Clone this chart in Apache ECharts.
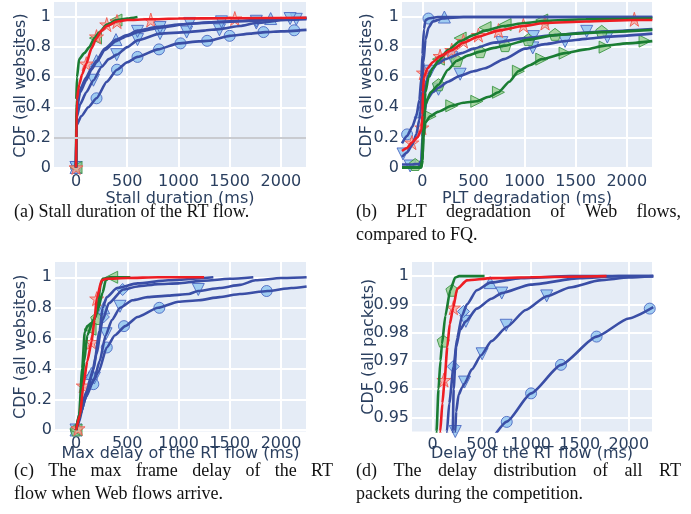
<!DOCTYPE html>
<html><head><meta charset="utf-8">
<script src="https://cdn.jsdelivr.net/npm/echarts@6/dist/echarts.min.js"></script>
<style>html,body{margin:0;padding:0;background:#fff}#c{width:691px;height:514px}</style>
</head><body><div id="c"></div>
<script>
// ---------- tick labels ----------
const xTicks = [0, 500, 1000, 1500, 2000];
const yTicksCdf = [0, 0.2, 0.4, 0.6, 0.8, 1];
const yTicksPkt = [0.95, 0.96, 0.97, 0.98, 0.99, 1];
const refLineA = 0.2;

// ---------- (a) Stall duration ----------
const aBlueUp = [[0,0],[5,0.4],[40,0.52],[100,0.6],[150,0.66],[200,0.71],[280,0.79],[390,0.85],[500,0.88],[600,0.91],[800,0.935],[1000,0.95],[1300,0.965],[1600,0.975],[1900,0.99],[2250,0.995]];
const aBlueUpM = [[0,0],[200,0.71],[390,0.85],[1900,0.99]];
const aBlueDn1 = [[0,0],[5,0.38],[40,0.5],[100,0.58],[150,0.65],[200,0.7],[280,0.78],[390,0.84],[500,0.875],[600,0.9],[820,0.93],[1100,0.955],[1400,0.965],[1750,0.975],[2100,0.985],[2250,0.99]];
const aBlueDn1M = [[0,0],[600,0.905],[820,0.93],[1110,0.958],[1420,0.968],[1760,0.972],[2090,0.99]];
const aBlueDn2 = [[0,0],[5,0.33],[40,0.42],[100,0.5],[170,0.58],[250,0.67],[320,0.72],[400,0.75],[500,0.8],[600,0.845],[820,0.89],[1080,0.9],[1250,0.91],[1400,0.92],[1600,0.94],[1760,0.96],[2050,0.98],[2250,0.985]];
const aBlueDn2M = [[0,0],[170,0.58],[397,0.75],[600,0.85],[820,0.89],[1080,0.9],[1400,0.915],[1760,0.96],[2150,0.985]];
const aBlueCir = [[0,0],[5,0.28],[50,0.34],[120,0.4],[200,0.46],[300,0.57],[400,0.65],[500,0.7],[600,0.735],[800,0.785],[1000,0.825],[1200,0.838],[1300,0.842],[1500,0.875],[1700,0.89],[1850,0.9],[2000,0.905],[2250,0.915]];
const aBlueCirM = [[0,0],[200,0.46],[400,0.65],[600,0.735],[810,0.785],[1020,0.825],[1280,0.842],[1500,0.875],[1830,0.9],[2130,0.912]];
const aGreen = [[0,0],[2,0.45],[10,0.6],[30,0.72],[80,0.76],[130,0.8],[180,0.86],[230,0.9],[300,0.95],[400,0.98],[500,0.99],[600,1.0]];
const aGreenM = [[0,0],[190,0.86],[390,0.98]];
const aRed = [[0,0],[8,0.45],[30,0.55],[60,0.62],[100,0.69],[150,0.79],[200,0.86],[250,0.91],[300,0.94],[400,0.97],[500,0.98],[700,0.985],[1000,0.99],[1500,0.992],[2250,0.995]];
const aRedM = [[0,0],[100,0.69],[200,0.87],[300,0.95],[400,0.97],[730,0.98],[1550,0.99]];

// ---------- (b) PLT degradation ----------
const bBlueCir = [[-200,0.16],[-150,0.21],[-100,0.27],[-60,0.34],[-30,0.45],[-10,0.6],[0,0.75],[15,0.92],[30,0.98],[60,0.99],[150,1.0],[2250,1.0]];
const bBlueCirM = [[-150,0.22],[59,0.99]];
const bBlueUp = [[-200,0.07],[-150,0.1],[-100,0.15],[-60,0.22],[-30,0.32],[-20,0.37],[-5,0.5],[10,0.7],[30,0.85],[60,0.93],[100,0.97],[200,0.99],[400,1.0],[2250,1.0]];
const bBlueUpM = [[-22,0.37],[215,1.0]];
const bBlueDn1 = [[-200,0.02],[-100,0.02],[-30,0.025],[-10,0.05],[0,0.2],[10,0.45],[30,0.56],[75,0.64],[150,0.69],[222,0.72],[385,0.76],[500,0.79],[700,0.83],[1005,0.86],[1300,0.88],[1560,0.895],[1800,0.905],[2250,0.92]];
const bBlueDn1M = [[-190,0.09],[75,0.64],[287,0.73],[777,0.83],[1086,0.87],[1608,0.905]];
const bBlueDn2 = [[-200,0],[-50,0],[-10,0.02],[0,0.15],[15,0.35],[43,0.45],[100,0.5],[157,0.53],[250,0.57],[369,0.61],[500,0.64],[613,0.66],[800,0.72],[1005,0.79],[1200,0.82],[1396,0.84],[1600,0.855],[1820,0.87],[2250,0.89]];
const bBlueDn2M = [[-120,0.01],[157,0.52],[369,0.62],[1080,0.795],[1396,0.838],[1810,0.867]];
const bGreenL = [[-200,0],[-20,0],[-5,0.01],[0,0.1],[10,0.3],[30,0.5],[60,0.6],[100,0.66],[157,0.71],[250,0.78],[369,0.84],[500,0.88],[613,0.91],[800,0.94],[1000,0.96],[1200,0.975],[1600,0.985],[2250,0.99]];
const bGreenLM = [[157,0.72],[369,0.86],[613,0.93],[809,0.95],[1168,0.98]];
const bGreenP = [[-200,0],[-20,0],[0,0.05],[10,0.25],[30,0.42],[80,0.5],[157,0.55],[250,0.65],[336,0.71],[450,0.745],[564,0.77],[700,0.795],[809,0.81],[1037,0.85],[1298,0.88],[1500,0.89],[1755,0.9],[2250,0.915]];
const bGreenPM = [[-71,0.02],[157,0.55],[336,0.71],[564,0.77],[809,0.81],[1037,0.85],[1298,0.885],[1755,0.905]];
const bGreenR = [[-200,0],[-10,0],[0,0.05],[10,0.2],[30,0.3],[75,0.34],[150,0.37],[287,0.41],[400,0.43],[532,0.44],[650,0.47],[744,0.5],[850,0.57],[939,0.64],[1050,0.68],[1168,0.72],[1396,0.76],[1600,0.785],[1788,0.81],[2000,0.825],[2250,0.84]];
const bGreenRM = [[75,0.34],[287,0.41],[532,0.44],[744,0.5],[939,0.64],[1168,0.72],[1396,0.76],[1788,0.8],[2179,0.84]];
const bRed = [[-200,0.11],[-150,0.13],[-104,0.165],[-50,0.2],[-10,0.25],[0,0.35],[5,0.5],[15,0.6],[50,0.66],[100,0.7],[173,0.74],[287,0.78],[401,0.83],[548,0.87],[744,0.91],[988,0.94],[1200,0.96],[1600,0.97],[2074,0.98],[2250,0.98]];
const bRedM = [[-104,0.165],[-6,0.265],[10,0.63],[173,0.74],[287,0.78],[401,0.84],[548,0.88],[744,0.91],[988,0.945],[1200,0.96],[2074,0.985]];

// ---------- (c) Max frame delay ----------
const cBlueCir = [[0,0],[30,0.05],[80,0.2],[150,0.3],[220,0.38],[300,0.54],[380,0.62],[480,0.68],[600,0.74],[800,0.8],[1000,0.84],[1200,0.85],[1400,0.87],[1600,0.89],[1870,0.91],[2100,0.93],[2250,0.94]];
const cBlueCirM = [[0,0],[169,0.3],[300,0.54],[468,0.68],[813,0.8],[1860,0.91]];
const cBlueDn = [[0,0],[40,0.1],[100,0.22],[180,0.34],[230,0.45],[290,0.62],[350,0.72],[430,0.8],[550,0.85],[700,0.87],[900,0.88],[1100,0.89],[1190,0.91],[1400,0.93],[1600,0.95],[1750,0.98],[2000,0.995],[2250,1.0]];
const cBlueDnM = [[0,0],[179,0.34],[293,0.63],[429,0.81],[1193,0.92]];
const cBlueDia = [[0,0],[40,0.1],[100,0.22],[150,0.35],[200,0.5],[260,0.72],[320,0.83],[460,0.92],[600,0.94],[800,0.955],[1000,0.96],[1200,0.975],[1500,0.99],[1730,1.0]];
const cBlueDiaM = [[0,0],[150,0.35],[267,0.74],[455,0.92]];
const cBlueUp = [[0,0],[40,0.12],[100,0.25],[170,0.4],[230,0.65],[260,0.8],[300,0.87],[400,0.93],[600,0.96],[900,0.98],[1340,1.0]];
const cBlueUpM = [[0,0],[150,0.37],[270,0.8]];
const cGreen1 = [[0,0],[30,0.1],[60,0.4],[85,0.64],[110,0.68],[150,0.7],[200,0.75],[240,0.95],[260,0.99],[350,1.0],[530,1.0]];
const cGreen1M = [[0,0],[137,0.66],[348,1.0]];
const cGreen2 = [[0,0],[40,0.1],[80,0.45],[110,0.62],[160,0.7],[210,0.78],[260,0.9],[290,0.98],[330,1.0],[430,1.0]];
const cGreen2M = [[0,0],[202,0.73]];
const cRed = [[0,0],[40,0.1],[71,0.29],[110,0.45],[153,0.58],[180,0.72],[202,0.86],[250,0.98],[300,0.99],[500,0.995],[800,1.0],[1250,1.0]];
const cRedM = [[20,0.01],[71,0.29],[153,0.575],[202,0.86]];

// ---------- (d) Delay of all RT packets ----------
const dGreen = [[35,0.94],[40,0.945],[60,0.96],[80,0.97],[96,0.976],[130,0.986],[180,0.995],[230,0.9995],[270,1.0],[530,1.0]];
const dGreenM = [[108,0.977],[197,0.995]];
const dRed = [[72,0.94],[78,0.945],[100,0.955],[122,0.963],[150,0.975],[175,0.983],[210,0.9888],[250,0.9955],[350,0.9985],[600,0.9993],[1000,0.9996],[1400,0.9998],[1773,1.0]];
const dRedM = [[115,0.9632],[212,0.9888]];
const dBlue1 = [[140,0.94],[146,0.945],[170,0.955],[214,0.968],[250,0.978],[300,0.986],[350,0.99],[450,0.995],[587,0.9977],[900,0.9993],[1400,1.0],[2250,1.0]];
const dBlue1DiaM = [[210,0.968],[315,0.9875]];
const dBlue1UpM = [[587,0.9977]];
const dBlue2 = [[200,0.94],[205,0.945],[215,0.96],[240,0.975],[280,0.981],[339,0.984],[450,0.9885],[600,0.992],[705,0.994],[1000,0.997],[1500,0.9993],[1900,1.0],[2250,1.0]];
const dBlue2M = [[339,0.984],[705,0.994]];
const dBlue3 = [[228,0.94],[231,0.945],[240,0.952],[265,0.958],[300,0.9605],[326,0.962],[400,0.967],[495,0.972],[600,0.977],[756,0.982],[950,0.988],[1163,0.9929],[1400,0.996],[1700,0.9985],[2000,0.9995],[2250,1.0]];
const dBlue3M = [[231,0.945],[326,0.9625],[505,0.9725],[750,0.9826],[1163,0.993]];
const dBlueCir = [[620,0.943],[756,0.9485],[1004,0.9585],[1309,0.9686],[1672,0.9786],[2000,0.985],[2250,0.989]];
const dBlueCirM = [[756,0.9484],[1004,0.9585],[1309,0.9686],[1672,0.9786],[2214,0.9885]];

// ---------- texts ----------
const xTitles = ['Stall duration (ms)', 'PLT degradation (ms)', 'Max delay of the RT flow (ms)', 'Delay of the RT flow (ms)'];
const yTitles = ['CDF (all websites)', 'CDF (all websites)', 'CDF (all websites)', 'CDF (all packets)'];
const captions = [
  {lines: ['(a) Stall duration of the RT flow.'], x0: 14, x1: 232, y: 212},
  {lines: ['(b) PLT degradation of Web flows,', 'compared to FQ.'], x0: 356, x1: 681, y: 212},
  {lines: ['(c) The max frame delay of the RT', 'flow when Web flows arrive.'], x0: 14, x1: 333, y: 471},
  {lines: ['(d) The delay distribution of all RT', 'packets during the competition.'], x0: 356, x1: 681, y: 471}
];

// ---------- layout / style ----------
const grids = [
  {left: 54, top: 2, width: 252, height: 167},
  {left: 402, top: 2, width: 250, height: 167},
  {left: 55, top: 262, width: 251, height: 169.5},
  {left: 412, top: 262, width: 240, height: 169.5}
];
const xRanges = [[-215, 2245], [-200, 2247], [-205, 2244], [-210, 2237]];
const yRanges = [[-0.01, 1.1], [-0.01, 1.1], [-0.01, 1.1], [0.945, 1.005]];
const yNameGap = [25, 27, 26, 35];
const xLabelMargin = [5, 5, 4, 5];
const xNameGap = [22, 22, 14, 14];

const SYM = {
  circle: 'circle',
  up: 'path://M50,0 L100,87 L0,87 Z',
  down: 'path://M0,0 L100,0 L50,87 Z',
  left: 'path://M0,50 L87,0 L87,100 Z',
  right: 'path://M0,0 L87,50 L0,100 Z',
  diamond: 'diamond',
  pent: 'path://M50,0 L98,35 L79,91 L21,91 L2,35 Z',
  star: 'path://M50,0 L61,35 L98,35 L68,57 L79,91 L50,70 L21,91 L32,57 L2,35 L39,35 Z'
};
const KIND = {
  blue: {line: '#3a4ea6', fill: 'rgba(140,195,240,0.78)', edge: 'rgba(75,105,195,0.9)'},
  green: {line: '#1a7d33', fill: 'rgba(150,205,140,0.78)', edge: 'rgba(60,150,70,0.9)'},
  red: {line: '#ee1d23', fill: 'rgba(250,165,155,0.72)', edge: 'rgba(240,95,85,0.95)'}
};
const font = 'DejaVu Sans';
const tickColor = '#2a3f5f';

const series = [];
function addLine(gi, data, kind) {
  series.push({type: 'line', xAxisIndex: gi, yAxisIndex: gi, data: data, showSymbol: false,
    smooth: 0.2, smoothMonotone: 'x', silent: true, clip: true,
    lineStyle: {color: KIND[kind].line, width: 2.6}, itemStyle: {color: KIND[kind].line}});
}
function addMarks(gi, data, kind, sym, size) {
  series.push({type: 'scatter', xAxisIndex: gi, yAxisIndex: gi, data: data, symbol: SYM[sym],
    symbolSize: size, silent: true, clip: true,
    itemStyle: {color: KIND[kind].fill, borderColor: KIND[kind].edge, borderWidth: 1, opacity: 1}});
}

// (a)
addLine(0, aBlueCir, 'blue'); addMarks(0, aBlueCirM, 'blue', 'circle', 11);
addLine(0, aBlueDn2, 'blue'); addMarks(0, aBlueDn2M, 'blue', 'down', 12);
addLine(0, aBlueDn1, 'blue'); addMarks(0, aBlueDn1M, 'blue', 'down', 12);
addLine(0, aBlueUp, 'blue'); addMarks(0, aBlueUpM, 'blue', 'up', 12);
addLine(0, aGreen, 'green'); addMarks(0, aGreenM, 'green', 'left', 12);
addLine(0, aRed, 'red'); addMarks(0, aRedM, 'red', 'star', 14);
series[0].markLine = {silent: true, symbol: 'none', label: {show: false},
  lineStyle: {color: '#c9cbd0', width: 2, type: 'solid'}, data: [{yAxis: refLineA}]};
// (b)
addLine(1, bBlueDn2, 'blue'); addMarks(1, bBlueDn2M, 'blue', 'down', 12);
addLine(1, bBlueDn1, 'blue'); addMarks(1, bBlueDn1M, 'blue', 'down', 12);
addLine(1, bBlueUp, 'blue'); addMarks(1, bBlueUpM, 'blue', 'up', 12);
addLine(1, bBlueCir, 'blue'); addMarks(1, bBlueCirM, 'blue', 'circle', 11);
addLine(1, bGreenR, 'green'); addMarks(1, bGreenRM, 'green', 'right', 12);
addLine(1, bGreenP, 'green'); addMarks(1, bGreenPM, 'green', 'pent', 12);
addLine(1, bGreenL, 'green'); addMarks(1, bGreenLM, 'green', 'left', 12);
addLine(1, bRed, 'red'); addMarks(1, bRedM, 'red', 'star', 14);
// (c)
addLine(2, cBlueCir, 'blue'); addMarks(2, cBlueCirM, 'blue', 'circle', 11);
addLine(2, cBlueDn, 'blue'); addMarks(2, cBlueDnM, 'blue', 'down', 12);
addLine(2, cBlueDia, 'blue'); addMarks(2, cBlueDiaM, 'blue', 'diamond', 12);
addLine(2, cBlueUp, 'blue'); addMarks(2, cBlueUpM, 'blue', 'up', 12);
addLine(2, cGreen2, 'green'); addMarks(2, cGreen2M, 'green', 'pent', 12);
addLine(2, cGreen1, 'green'); addMarks(2, cGreen1M, 'green', 'left', 12);
addLine(2, cRed, 'red'); addMarks(2, cRedM, 'red', 'star', 14);
// (d)
addLine(3, dBlueCir, 'blue'); addMarks(3, dBlueCirM, 'blue', 'circle', 11);
addLine(3, dBlue3, 'blue'); addMarks(3, dBlue3M, 'blue', 'down', 12);
addLine(3, dBlue2, 'blue'); addMarks(3, dBlue2M, 'blue', 'down', 12);
addLine(3, dBlue1, 'blue'); addMarks(3, dBlue1DiaM, 'blue', 'diamond', 12); addMarks(3, dBlue1UpM, 'blue', 'up', 12);
addLine(3, dGreen, 'green'); addMarks(3, dGreenM, 'green', 'pent', 12);
addLine(3, dRed, 'red'); addMarks(3, dRedM, 'red', 'star', 14);

const fmt = v => String(Math.round(v * 100) / 100);
const xAxis = grids.map((g, i) => ({
  type: 'value', gridIndex: i, min: xRanges[i][0], max: xRanges[i][1],
  name: xTitles[i], nameLocation: 'middle', nameGap: xNameGap[i], nameMoveOverlap: false,
  nameTextStyle: {fontFamily: font, fontSize: 16, color: tickColor},
  axisLine: {show: false}, axisTick: {show: false, customValues: xTicks},
  axisLabel: {customValues: xTicks, fontFamily: font, fontSize: 16, color: tickColor, margin: xLabelMargin[i], formatter: fmt},
  splitLine: {show: true, lineStyle: {color: '#ffffff', width: 2}}
}));
const yAxis = grids.map((g, i) => {
  const t = i === 3 ? yTicksPkt : yTicksCdf;
  return {
    type: 'value', gridIndex: i, min: yRanges[i][0], max: yRanges[i][1],
    name: yTitles[i], nameLocation: 'middle', nameGap: yNameGap[i], nameMoveOverlap: false,
    nameTextStyle: {fontFamily: font, fontSize: 16, color: tickColor},
    axisLine: {show: false}, axisTick: {show: false, customValues: t},
    axisLabel: {customValues: t, fontFamily: font, fontSize: 16, color: tickColor, margin: 3, formatter: fmt},
    splitLine: {show: true, lineStyle: {color: '#ffffff', width: 2}}
  };
});

// captions (justified first lines, like the paper)
const capSize = 18;
const capFamily = 'Liberation Serif';
const mctx = document.createElement('canvas').getContext('2d');
mctx.font = capSize + 'px "' + capFamily + '"';
const graphic = [];
captions.forEach(c => {
  c.lines.forEach((line, li) => {
    const y = c.y + li * 23;
    const justify = li === 0 && c.lines.length > 1;
    const words = line.split(' ');
    const ws = words.map(w => mctx.measureText(w).width);
    const total = ws.reduce((a, b) => a + b, 0);
    const gap = justify ? (c.x1 - c.x0 - total) / (words.length - 1) : mctx.measureText(' ').width;
    let x = c.x0;
    words.forEach((w, k) => {
      graphic.push({type: 'text', x: x, y: y, silent: true,
        style: {text: w, fontSize: capSize, fontFamily: capFamily, fill: '#111', align: 'left', verticalAlign: 'middle'}});
      x += ws[k] + gap;
    });
  });
});

const chart = echarts.init(document.getElementById('c'), null, {renderer: 'canvas'});
chart.setOption({
  animation: false,
  backgroundColor: '#ffffff',
  grid: grids.map(g => Object.assign({show: true, backgroundColor: '#E5ECF6', borderWidth: 0}, g)),
  xAxis: xAxis,
  yAxis: yAxis,
  series: series,
  graphic: graphic
});
</script></body></html>
